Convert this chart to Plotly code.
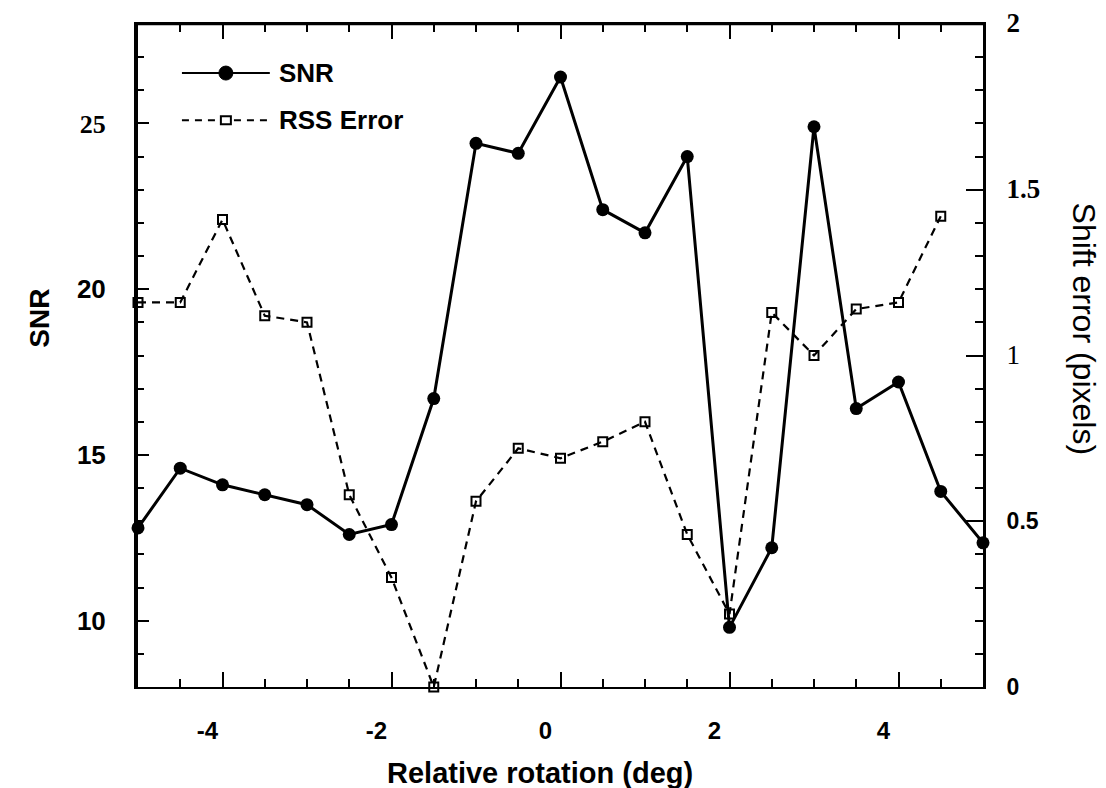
import plotly.graph_objects as go

# ---- data ----
rotation = [-5, -4.5, -4, -3.5, -3, -2.5, -2, -1.5, -1, -0.5, 0,
            0.5, 1, 1.5, 2, 2.5, 3, 3.5, 4, 4.5, 5]
snr = [12.8, 14.6, 14.1, 13.8, 13.5, 12.6, 12.9, 16.7, 24.4, 24.1, 26.4,
       22.4, 21.7, 24.0, 9.8, 12.2, 24.9, 16.4, 17.2, 13.9, 12.35]
rss_error = [1.16, 1.16, 1.41, 1.12, 1.10, 0.58, 0.33, 0.0, 0.56, 0.72, 0.69,
             0.74, 0.80, 0.46, 0.22, 1.13, 1.00, 1.14, 1.16, 1.42, None]

x_ticks = [-4, -2, 0, 2, 4]
x_ticklabels = ["-4", "-2", "0", "2", "4"]
snr_ticks = [10, 15, 20, 25]
snr_ticklabels = ["10", "15", "20", '<span style="font-family:Liberation Serif">25</span>']
err_ticks = [0, 0.5, 1, 1.5, 2]
err_ticklabels = ["0", "0.5",
                  '<span style="font-family:Liberation Serif;font-weight:normal;font-size:27px">1</span>',
                  '<span style="font-family:Liberation Serif;font-size:27px">1.5</span>',
                  '<span style="font-family:Liberation Serif;font-size:27px">2</span>']

SANS = "Liberation Sans, Arial, sans-serif"

fig = go.Figure()
fig.add_trace(go.Scatter(
    x=rotation, y=rss_error, xaxis="x2", yaxis="y2", name="RSS Error",
    mode="lines+markers", cliponaxis=False,
    line=dict(color="black", width=2.2, dash="8px,6px"),
    marker=dict(symbol="square-open", size=9, color="black", line=dict(width=2, color="black")),
))
fig.add_trace(go.Scatter(
    x=rotation, y=snr, name="SNR",
    mode="lines+markers", cliponaxis=False,
    line=dict(color="black", width=3),
    marker=dict(symbol="circle", size=13, color="black"),
))

tick_font = dict(family=SANS, size=23, color="black", weight="bold")
x_minor = dict(dtick=0.5, tick0=0, ticks="inside", ticklen=8, tickwidth=2,
               tickcolor="black", showgrid=False)

fig.update_layout(
    width=1106, height=788,
    margin=dict(l=138, r=123, t=24, b=101),
    paper_bgcolor="white", plot_bgcolor="white",
    showlegend=False,
    xaxis=dict(
        range=[-5, 5], showgrid=False, zeroline=False, automargin=False,
        showline=True, linecolor="black", linewidth=2, mirror="ticks",
        ticks="inside", ticklen=15, tickwidth=2, tickcolor="black",
        tickvals=x_ticks, ticktext=x_ticklabels, tickfont=dict(tick_font, size=24),
        ticklabelshift=-15, ticklabelstandoff=21,
        minor=x_minor,
    ),
    # top frame with its own ticks (no labels)
    xaxis2=dict(
        range=[-5, 5], overlaying="x", side="top", anchor="y2",
        showgrid=False, zeroline=False, automargin=False,
        showline=True, linecolor="black", linewidth=2,
        ticks="inside", ticklen=15, tickwidth=2, tickcolor="black",
        tickvals=x_ticks, showticklabels=False,
        minor=x_minor,
    ),
    yaxis=dict(
        range=[8, 28], showgrid=False, zeroline=False, automargin=False,
        showline=True, linecolor="black", linewidth=4,
        ticks="inside", ticklen=11, tickwidth=2, tickcolor="black",
        tickvals=snr_ticks, ticktext=snr_ticklabels,
        tickfont=dict(family=SANS, size=26, color="black", weight="bold"),
        ticklabelstandoff=23,
        minor=dict(dtick=1, tick0=0, ticks="inside", ticklen=6, tickwidth=2,
                   tickcolor="black", showgrid=False),
    ),
    yaxis2=dict(
        range=[0, 2], overlaying="y", side="right", anchor="x2",
        showgrid=False, zeroline=False, automargin=False,
        showline=True, linecolor="black", linewidth=3,
        ticks="inside", ticklen=17, tickwidth=2, tickcolor="black",
        tickvals=err_ticks, ticktext=err_ticklabels, tickfont=tick_font,
        ticklabelstandoff=16,
        minor=dict(dtick=0.1, tick0=0, ticks="inside", ticklen=8, tickwidth=2,
                   tickcolor="black", showgrid=False),
    ),
)

# explicit top border of the frame
fig.add_shape(type="line", xref="paper", yref="paper", x0=0, x1=1, y0=1, y1=1,
              line=dict(color="black", width=2.5), layer="above")

# axis titles
fig.add_annotation(text="Relative rotation (deg)", xref="paper", yref="paper",
                   x=0.476, y=-0.13, xanchor="center", yanchor="middle", showarrow=False,
                   font=dict(family=SANS, size=29, color="black", weight="bold"))
fig.add_annotation(text="SNR", xref="paper", yref="paper", textangle=-90,
                   x=-0.116, y=0.557, xanchor="center", yanchor="middle", showarrow=False,
                   font=dict(family=SANS, size=28, color="black", weight="bold"))
fig.add_annotation(text="Shift error (pixels)", xref="paper", yref="paper", textangle=90,
                   x=1.12, y=0.54, xanchor="center", yanchor="middle", showarrow=False,
                   font=dict(family=SANS, size=32, color="black"))

# hand-drawn legend (upper left)
ly1, ly2 = 0.926, 0.855
lx0, lxm, lx1, ltx = 0.052, 0.104, 0.156, 0.1645
fig.add_shape(type="line", xref="paper", yref="paper", x0=lx0, x1=lx1, y0=ly1, y1=ly1,
              line=dict(color="black", width=2))
fig.add_shape(type="circle", xref="paper", yref="paper", xsizemode="pixel", ysizemode="pixel",
              xanchor=lxm, yanchor=ly1, x0=-7, x1=7, y0=-7, y1=7,
              fillcolor="black", line=dict(color="black", width=1))
fig.add_shape(type="line", xref="paper", yref="paper", x0=lx0, x1=lx1, y0=ly2, y1=ly2,
              line=dict(color="black", width=2, dash="7px,6px"))
fig.add_shape(type="rect", xref="paper", yref="paper", xsizemode="pixel", ysizemode="pixel",
              xanchor=lxm, yanchor=ly2, x0=-5, x1=5, y0=-4, y1=4,
              fillcolor="white", line=dict(color="black", width=2))
fig.add_annotation(text="SNR", xref="paper", yref="paper", x=ltx, y=ly1,
                   xanchor="left", yanchor="middle", showarrow=False,
                   font=dict(family=SANS, size=26, color="black", weight="bold"))
fig.add_annotation(text="RSS Error", xref="paper", yref="paper", x=ltx, y=ly2,
                   xanchor="left", yanchor="middle", showarrow=False,
                   font=dict(family=SANS, size=26, color="black", weight="bold"))

# remove the default 8px page margin so the figure fills the window exactly
fig.write_html("out.html", config={"displayModeBar": False},
               post_script="document.body.style.margin='0';document.body.style.overflow='hidden';")
